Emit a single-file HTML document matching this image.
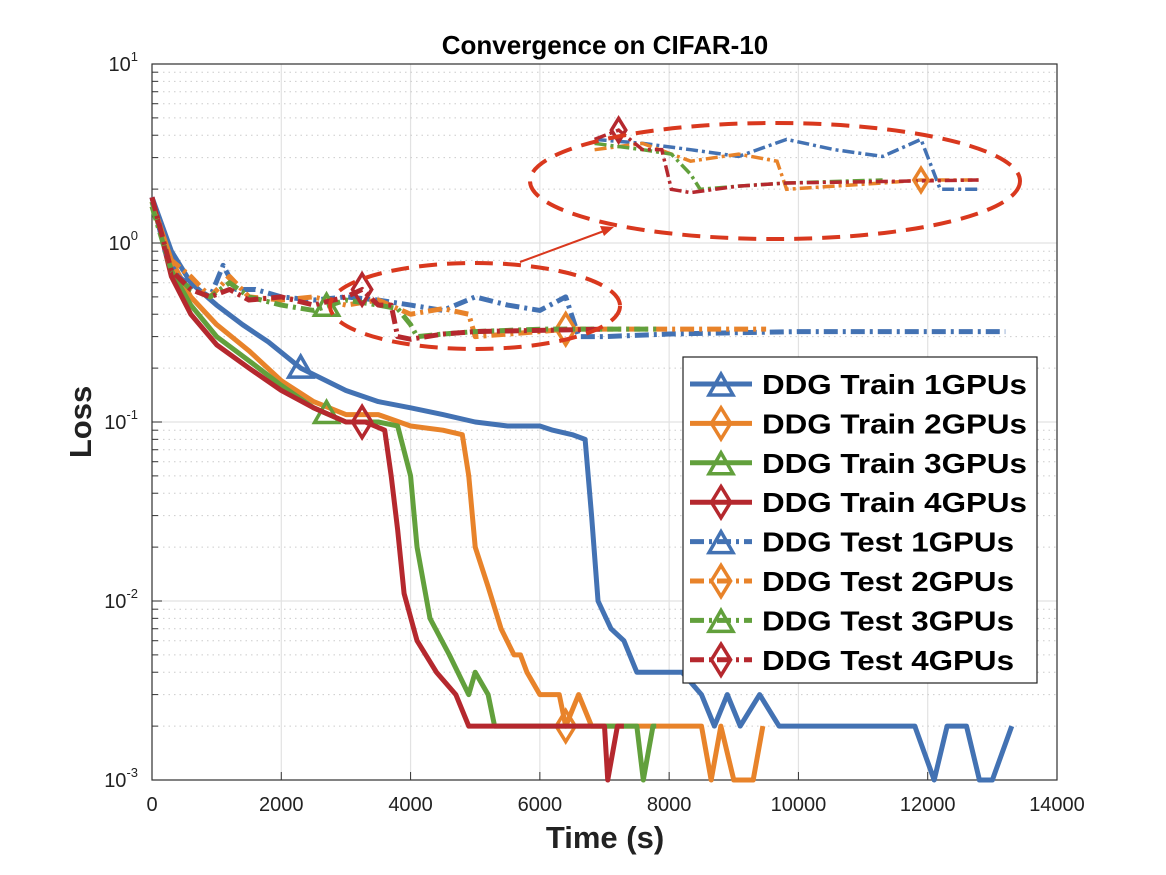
<!DOCTYPE html>
<html><head><meta charset="utf-8"><style>
body{margin:0;background:#fff}
svg{display:block;font-family:"Liberation Sans",Arial,sans-serif}
</style></head><body>
<svg id="chart" width="1166" height="875" viewBox="0 0 1166 875">
<rect width="1166" height="875" fill="#fff"/>
<g id="grid"></g><g id="axes"></g><g id="series"></g><g id="inset"></g><g id="legend"></g>
</svg>
<script>
const xTicks=[0,2000,4000,6000,8000,10000,12000,14000];
const yExps=[-3,-2,-1,0,1];
const train1X=[0,300,600,1000,1400,1800,2300,3000,3500,4000,4500,5000,5500,6000,6200,6500,6700,6800,6900,7100,7300,7500,8200,8500,8700,8900,9100,9400,9700,11800,12100,12300,12600,12800,13000,13300];
const train1Y=[1.8,0.9,0.6,0.45,0.35,0.28,0.2,0.15,0.13,0.12,0.11,0.1,0.095,0.095,0.09,0.085,0.08,0.03,0.01,0.007,0.006,0.004,0.004,0.003,0.002,0.003,0.002,0.003,0.002,0.002,0.001,0.002,0.002,0.001,0.001,0.002];
const train2X=[0,300,600,1000,1500,2000,2500,3000,3500,4000,4500,4800,4900,5000,5200,5400,5600,5700,5800,6000,6300,6400,6600,6800,8500,8650,8800,9000,9300,9450];
const train2Y=[1.7,0.8,0.5,0.35,0.25,0.17,0.13,0.11,0.11,0.095,0.09,0.085,0.05,0.02,0.012,0.007,0.005,0.005,0.004,0.003,0.003,0.002,0.003,0.002,0.002,0.001,0.002,0.001,0.001,0.002];
const train3X=[0,300,600,1000,1500,2000,2500,3000,3500,3800,4000,4100,4300,4600,4900,5000,5200,5300,7500,7600,7750,7800];
const train3Y=[1.7,0.7,0.45,0.3,0.22,0.16,0.12,0.1,0.1,0.095,0.05,0.02,0.008,0.005,0.003,0.004,0.003,0.002,0.002,0.001,0.002,0.002];
const train4X=[0,300,600,1000,1500,2000,2500,3000,3300,3600,3700,3800,3900,4100,4400,4700,4900,7000,7050,7200,7300];
const train4Y=[1.8,0.65,0.4,0.27,0.2,0.15,0.12,0.1,0.1,0.09,0.05,0.025,0.011,0.006,0.004,0.003,0.002,0.002,0.001,0.002,0.002];
const test1X=[0,200,400,700,900,1100,1300,1600,2000,2500,3000,3500,4000,4500,5000,5500,6000,6400,6600,7000,8000,10000,13200];
const test1Y=[1.8,0.9,0.65,0.55,0.5,0.75,0.55,0.55,0.5,0.48,0.5,0.48,0.45,0.42,0.5,0.45,0.42,0.5,0.3,0.3,0.31,0.32,0.32];
const test2X=[0,300,600,900,1200,1500,2000,2500,3000,3500,4000,4500,4900,5000,5500,6000,6400,7000,9500];
const test2Y=[1.6,0.8,0.65,0.5,0.65,0.5,0.48,0.5,0.45,0.48,0.4,0.43,0.4,0.3,0.31,0.32,0.33,0.33,0.33];
const test3X=[0,300,600,900,1200,1500,2000,2500,3000,3500,3800,4000,4100,4500,5000,6000,7800];
const test3Y=[1.6,0.7,0.55,0.5,0.6,0.5,0.45,0.42,0.48,0.45,0.43,0.35,0.3,0.31,0.32,0.33,0.33];
const test4X=[0,300,600,900,1200,1500,2000,2500,3000,3250,3500,3700,3800,4000,4500,5000,7000];
const test4Y=[1.8,0.7,0.55,0.5,0.55,0.48,0.5,0.45,0.5,0.55,0.45,0.45,0.3,0.29,0.31,0.32,0.33];
const legendLabels=["DDG Train 1GPUs","DDG Train 2GPUs","DDG Train 3GPUs","DDG Train 4GPUs","DDG Test 1GPUs","DDG Test 2GPUs","DDG Test 3GPUs","DDG Test 4GPUs"];

const NS="http://www.w3.org/2000/svg";
const L=152,R=1057,T=64,B=780;
const sx=v=>L+(v/14000)*(R-L);
const sy=v=>T+(1-Math.log10(v))*(B-T)/4;
function mk(tag,attrs,parent){const e=document.createElementNS(NS,tag);for(const k in attrs)e.setAttribute(k,attrs[k]);parent.appendChild(e);return e;}
const grid=document.getElementById('grid'),axes=document.getElementById('axes'),ser=document.getElementById('series'),ins=document.getElementById('inset'),leg=document.getElementById('legend');
const C={b:"#4372b3",o:"#e8832a",g:"#62a03c",r:"#b5282e"};

xTicks.forEach(t=>{const l=mk('line',{x1:sx(t),x2:sx(t),y1:T,y2:B,stroke:'#e2e2e2','stroke-width':1.2},grid);

const tx=mk('text',{x:sx(t),y:B+31,'text-anchor':'middle','font-size':20,fill:'#222'},axes);tx.textContent=t;

mk('line',{x1:sx(t),x2:sx(t),y1:B,y2:B-8,stroke:'#333','stroke-width':1},axes);});
yExps.forEach(e=>{const y=sy(Math.pow(10,e));
const l=mk('line',{x1:L,x2:R,y1:y,y2:y,stroke:'#e2e2e2','stroke-width':1.2},grid);

if(e<1){for(let m=2;m<=9;m++){const yy=sy(m*Math.pow(10,e));mk('line',{x1:L,x2:R,y1:yy,y2:yy,stroke:'#ccc','stroke-width':1,'stroke-dasharray':'1.5,4'},grid);mk('line',{x1:L,x2:L+6,y1:yy,y2:yy,stroke:'#333'},axes);}}
const tx=mk('text',{x:138,y:y+7,'text-anchor':'end','font-size':20,fill:'#222'},axes);
tx.innerHTML='10<tspan dy="-10" font-size="13">'+e+'</tspan>';

mk('line',{x1:L,x2:L+10,y1:y,y2:y,stroke:'#333'},axes);});
mk('rect',{x:L,y:T,width:R-L,height:B-T,fill:'none',stroke:'#333','stroke-width':1.2},axes);
let t=mk('text',{x:605,y:54,'text-anchor':'middle','font-size':26,'font-weight':'bold',fill:'#000'},axes);t.textContent='Convergence on CIFAR-10';

t=mk('text',{x:605,y:848,'text-anchor':'middle','font-size':31,'font-weight':'bold',fill:'#222'},axes);t.textContent='Time (s)';

t=mk('text',{x:0,y:0,'text-anchor':'middle','font-size':31,'font-weight':'bold',fill:'#222',transform:'translate(91,422) rotate(-90)'},axes);t.textContent='Loss';


function marker(type,x,y,col,par,s){s=s||12;
if(type==='tri')return mk('polygon',{points:`${x},${y-s} ${x-s},${y+s*0.75} ${x+s},${y+s*0.75}`,fill:'none',stroke:col,'stroke-width':3.5},par);
return mk('polygon',{points:`${x},${y-s*1.3} ${x+s*0.8},${y} ${x},${y+s*1.3} ${x-s*0.8},${y}`,fill:'none',stroke:col,'stroke-width':3.5},par);}
const series=[
{n:'train-1gpu',X:train1X,Y:train1Y,c:C.b,d:null,m:'tri',mx:2300},
{n:'train-2gpu',X:train2X,Y:train2Y,c:C.o,d:null,m:'dia',mx:6400},
{n:'train-3gpu',X:train3X,Y:train3Y,c:C.g,d:null,m:'tri',mx:2700},
{n:'train-4gpu',X:train4X,Y:train4Y,c:C.r,d:null,m:'dia',mx:3250},
{n:'test-1gpu',X:test1X,Y:test1Y,c:C.b,d:'14,5,3,5',m:'tri',mx:null},
{n:'test-2gpu',X:test2X,Y:test2Y,c:C.o,d:'14,5,3,5',m:'dia',mx:6400},
{n:'test-3gpu',X:test3X,Y:test3Y,c:C.g,d:'14,5,3,5',m:'tri',mx:2700},
{n:'test-4gpu',X:test4X,Y:test4Y,c:C.r,d:'14,5,3,5',m:'dia',mx:3250}];
function interp(X,Y,x){for(let i=1;i<X.length;i++)if(x<=X[i]){const f=(x-X[i-1])/(X[i]-X[i-1]);return Math.pow(10,Math.log10(Y[i-1])+f*(Math.log10(Y[i])-Math.log10(Y[i-1])));}return Y[Y.length-1];}
series.forEach(s=>{const pts=s.X.map((x,i)=>sx(x)+','+sy(s.Y[i])).join(' ');
const p=mk('polyline',{points:pts,fill:'none',stroke:s.c,'stroke-width':5,'stroke-linejoin':'round'},ser);
if(s.d)p.setAttribute('stroke-dasharray',s.d);

if(s.mx!==null){const mm=marker(s.m,sx(s.mx),sy(interp(s.X,s.Y,s.mx)),s.c,ser);}});

// inset zoom of test curves
const ix=x=>585+(x-2900)*0.096, iy=v=>183-(Math.log10(v)-Math.log10(0.32))*225;
series.slice(4).forEach(s=>{const pts=[];s.X.forEach((x,i)=>{if(x>=2900&&x<=7100)pts.push(ix(x)+','+iy(s.Y[i]));});
const p=mk('polyline',{points:pts.join(' '),fill:'none',stroke:s.c,'stroke-width':3.5,'stroke-dasharray':'12,4,3,4'},ins);
});
marker('dia',ix(3250),iy(0.55),C.r,ins,9);marker('dia',ix(6400),iy(0.33),C.o,ins,9);
let el=mk('ellipse',{cx:775,cy:181,rx:245,ry:58,fill:'none',stroke:'#d9381e','stroke-width':4,'stroke-dasharray':'18,10'},ins);

el=mk('ellipse',{cx:475,cy:306,rx:145,ry:43,fill:'none',stroke:'#d9381e','stroke-width':4,'stroke-dasharray':'18,10'},ins);

mk('line',{x1:520,y1:262,x2:604,y2:231,stroke:'#d9381e','stroke-width':2},ins);
mk('polygon',{points:'614,227 600,226 604,236',fill:'#d9381e'},ins);

// legend
const lb=mk('rect',{x:683,y:357,width:354,height:326,fill:'#fff',stroke:'#222','stroke-width':1.2},leg);

legendLabels.forEach((lab,i)=>{const s=series[i];const y=384+i*39.4;
const g=mk('g',{},leg);
const ln=mk('line',{x1:690,x2:752,y1:y,y2:y,stroke:s.c,'stroke-width':5},g);if(s.d)ln.setAttribute('stroke-dasharray','14,5,3,5');
marker(s.m,721,y+(s.m==='tri'?2:0),s.c,g,12);
const tx=mk('text',{x:762,y:y+10,'font-size':28,'font-weight':'bold',fill:'#000',textLength:lab.indexOf('Train')>0?265:252,lengthAdjust:'spacingAndGlyphs'},g);tx.textContent=lab;});
</script>
</body></html>
